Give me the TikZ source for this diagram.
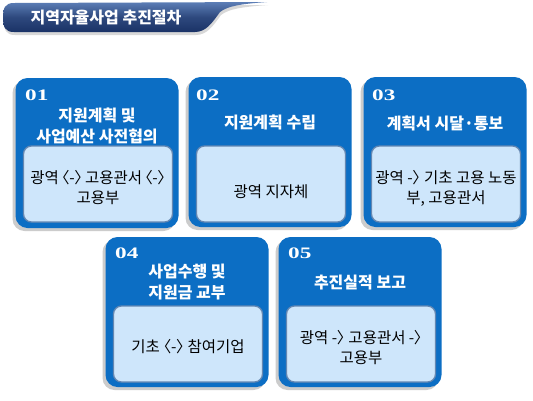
\documentclass[tikz,border=0pt]{standalone}
\usepackage{fontspec}
\usepackage{graphicx}
\setmainfont{Noto Sans CJK KR}
\newfontfamily\bodyfont[RawFeature=+palt]{Noto Sans CJK KR}
\newfontfamily\numfont{Liberation Serif}
\usepackage{tikz}
\usetikzlibrary{shadows,positioning}
\definecolor{stepblue}{RGB}{12, 110, 196}
\definecolor{innerblue}{RGB}{206, 230, 251}
\definecolor{inneredge}{RGB}{100, 135, 178}
\definecolor{barnavy}{RGB}{26, 50, 102}
\definecolor{barlight}{RGB}{92, 126, 182}

\begin{document}
\begin{tikzpicture}[x=1pt,y=-1pt,
    stepbox/.style={fill=stepblue,rounded corners=12pt,minimum width=163pt,minimum height=150pt,
        drop shadow={shadow xshift=-3pt,shadow yshift=-3pt,opacity=0.4}},
    innerbox/.style={fill=innerblue,draw=inneredge,line width=1.3pt,rounded corners=8pt,minimum width=149pt,minimum height=76pt},
    numtxt/.style={text=white,font=\numfont\bfseries\fontsize{16}{16}\selectfont,anchor=west,inner sep=0pt},
    headtxt/.style={text=white,font=\bfseries\fontsize{16}{21}\selectfont,align=center},
    bodytxt/.style={font=\bodyfont\fontsize{15.5}{20}\selectfont,align=center}]
    \fill[white] (0,0) rectangle (533,400);
    \useasboundingbox (0,0) rectangle (533,400);
    \path[top color=barlight,bottom color=barnavy,middle color=barnavy!70!barlight,
        drop shadow={shadow xshift=1pt,shadow yshift=-3pt,opacity=0.3}]
        (14,3) -- (267,2) .. controls (240,4) and (228,6) .. (220,12)
        .. controls (212,23) and (206,32) .. (195,32) -- (14,32)
        .. controls (5,32) and (3,27) .. (3,17.5) .. controls (3,8) and (5,3) .. (14,3) -- cycle;
    \node[text=white,font=\bfseries\fontsize{16}{16}\selectfont] (title) at (106,18) {지역자율사업 추진절차};

    \node[stepbox] (s1) at (97,153) {};
    \node[stepbox] (s2) at (270,152) {};
    \node[stepbox] (s3) at (445,152) {};
    \node[stepbox] (s4) at (187,312) {};
    \node[stepbox] (s5) at (360,312) {};

    \node[innerbox] (i1) at (98,184) {};
    \node[innerbox] (i2) at (271,184) {};
    \node[innerbox] (i3) at (446,184) {};
    \node[innerbox] (i4) at (188,344) {};
    \node[innerbox] (i5) at (361,344) {};

    \node[numtxt] (n1) at (25,95) {\scalebox{1.45}[1]{01}};
    \node[numtxt] (n2) at (196,95) {\scalebox{1.45}[1]{02}};
    \node[numtxt] (n3) at (372,95) {\scalebox{1.45}[1]{03}};
    \node[numtxt] (n4) at (115,253) {\scalebox{1.45}[1]{04}};
    \node[numtxt] (n5) at (288,253) {\scalebox{1.45}[1]{05}};

    \node[headtxt] (h1) at (97,125.5) {지원계획 및\\사업예산 사전협의};
    \node[headtxt] (h2) at (270,122) {지원계획 수립};
    \node[headtxt] (h3) at (445,123) {계획서 시달·통보};
    \node[headtxt] (h4) at (187,282.5) {사업수행 및\\지원금 교부};
    \node[headtxt] (h5) at (360,283) {추진실적 보고};

    \node[bodytxt] (b1) at (98,188) {광역\,〈-〉\,고용관서\,〈-〉\\고용부};
    \node[bodytxt] (b2) at (271,192) {광역 지자체};
    \node[bodytxt] (b3) at (446,188) {광역 -〉 기초 고용 노동\\부, 고용관서};
    \node[bodytxt] (b4) at (188,347) {기초 〈-〉 참여기업};
    \node[bodytxt] (b5) at (361,348) {광역 -〉 고용관서 -〉\\고용부};
\end{tikzpicture}
\end{document}
